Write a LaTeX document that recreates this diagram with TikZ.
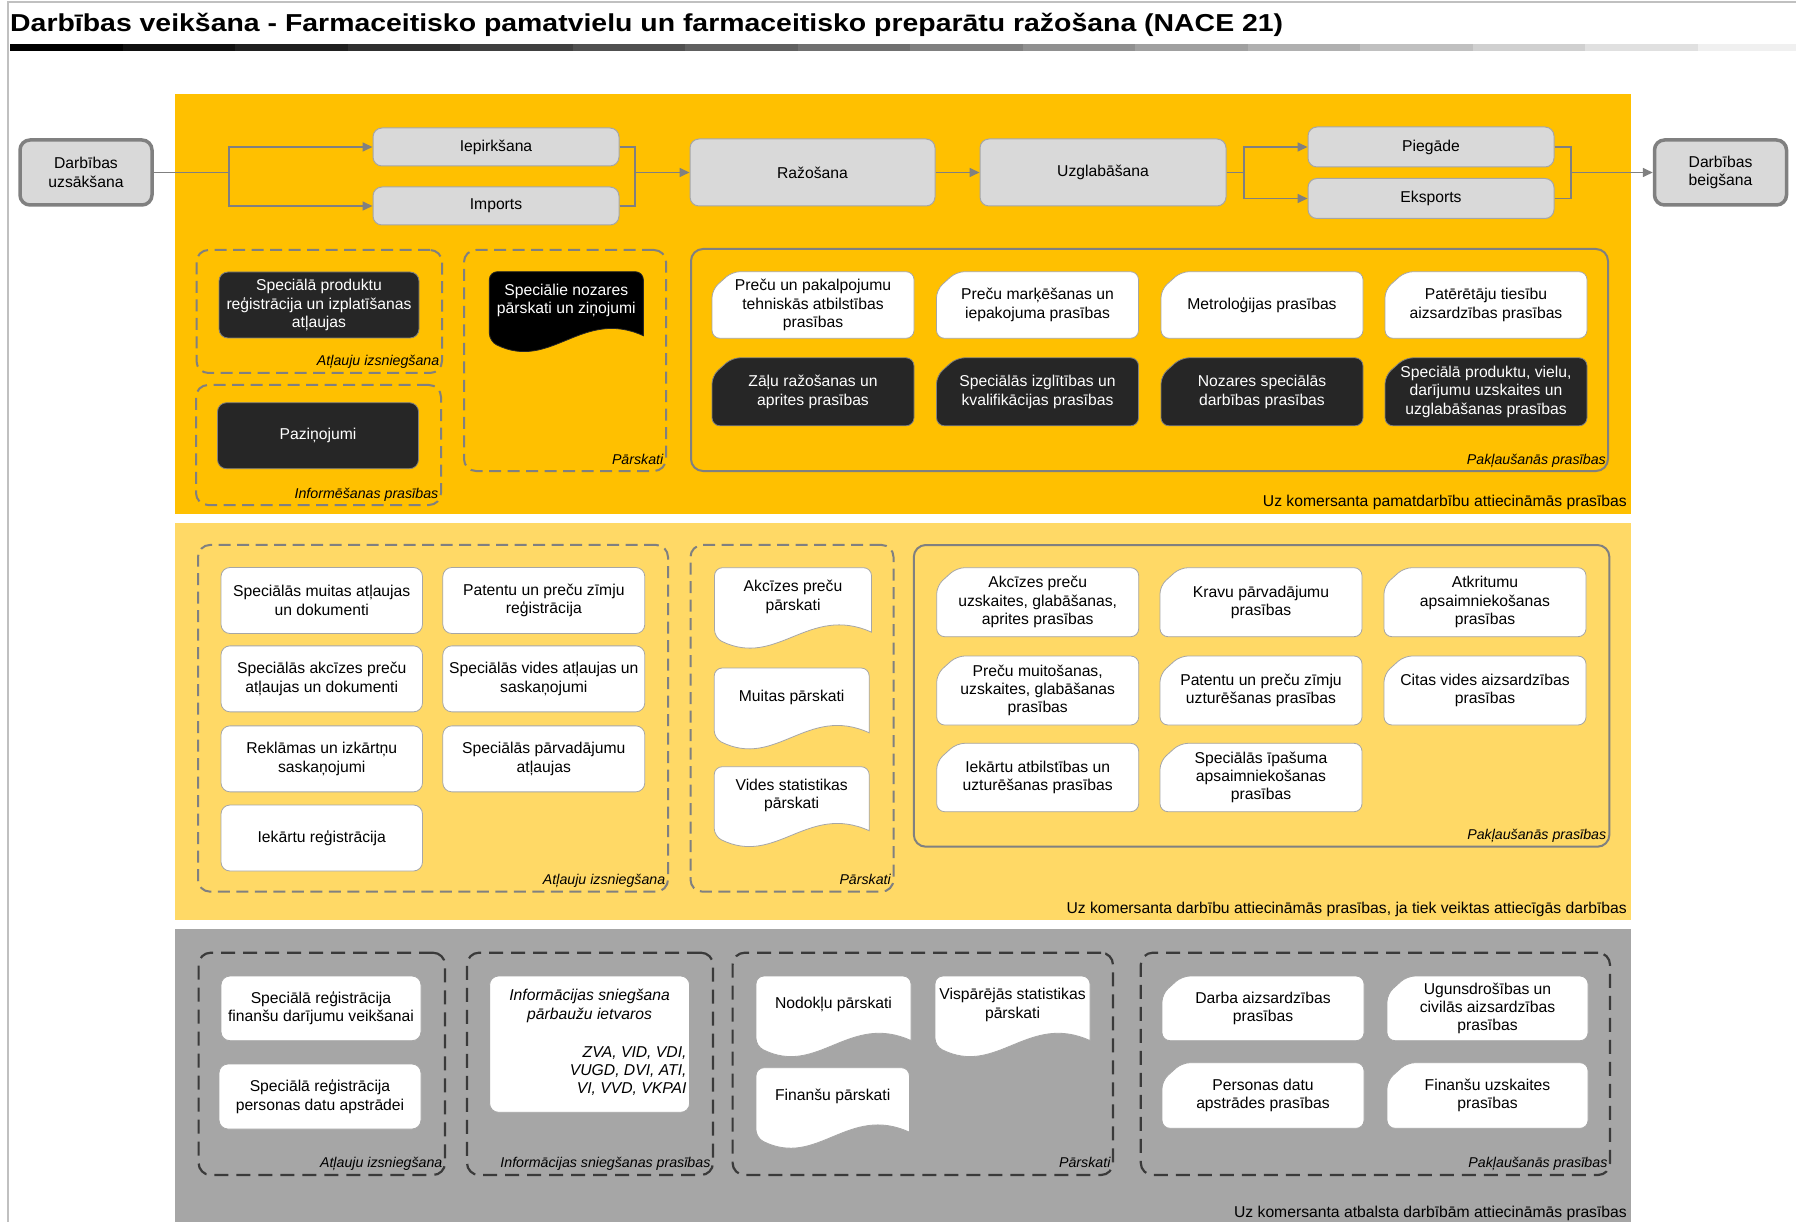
\documentclass[tikz,border=0pt]{standalone}
\usepackage{fontspec}
\usepackage{graphicx}
\setmainfont{Liberation Sans}
\usetikzlibrary{arrows.meta,calc}
\definecolor{bandA}{HTML}{FFC000}
\definecolor{bandB}{HTML}{FFD966}
\definecolor{bandC}{HTML}{A6A6A6}
\definecolor{boxgray}{HTML}{D9D9D9}
\definecolor{edgegray}{HTML}{808080}
\definecolor{lightedge}{HTML}{A6A6A6}
\definecolor{darkbox}{HTML}{262626}
\definecolor{darkdash}{HTML}{3A3A3A}
\definecolor{frameline}{HTML}{C0C0C0}
\newcommand\nf{\fontsize{15.7pt}{18.3pt}\selectfont}
\newcommand\lf{\fontsize{14.2pt}{17pt}\selectfont\itshape}
\pgfdeclarelayer{back}
\pgfdeclarelayer{mid}
\pgfsetlayers{back,mid,main}
\newcommand\snipshape[2]{\draw[#2] (#1.south) [rounded corners=8pt] -- (#1.south west) -- ([yshift=-18pt]#1.north west) -- ([xshift=20pt]#1.north west) -- (#1.north east) -- (#1.south east) -- cycle;}
\newcommand\docshape[2]{\draw[#2] let \p1=(#1.north west), \p2=(#1.south east), \n1={\x2-\x1}, \n2={\y1-\y2} in
  (\x2,{\y2+0.2*\n2}) [rounded corners=8pt] -- (\x2,\y1) -- (\x1,\y1) -- (\x1,{\y2+0.13*\n2}) [sharp corners]
  .. controls ({\x1+0.4*\n1},{\y2-0.25*\n2}) and ({\x1+0.6*\n1},{\y2+0.55*\n2}) .. (\x2,{\y2+0.2*\n2}) -- cycle;}
\begin{document}
\begin{tikzpicture}[x=1pt,y=-1pt,
  wh/.style 2 args={minimum width=#1pt, minimum height=#2pt},
  flowbox/.style={draw=lightedge, line width=1pt, fill=boxgray, rounded corners=9pt, font=\nf, align=center, inner sep=2pt},
  endbox/.style={draw=edgegray, line width=3.5pt, fill=boxgray, rounded corners=10pt, font=\nf, align=center, inner sep=2pt},
  flow/.style={draw=edgegray, line width=1.6pt},
  flowarrow/.style={flow, -{Triangle[length=10pt,width=9pt]}},
  dashA/.style={draw=edgegray, line width=2pt, dash pattern=on 12pt off 6.5pt, rounded corners=12pt},
  dashC/.style={draw=darkdash, line width=2.2pt, dash pattern=on 14pt off 8pt, rounded corners=12pt},
  solidgrp/.style={draw=edgegray, line width=2pt, rounded corners=12pt},
  wbox/.style={draw=lightedge, line width=0.8pt, fill=white, rounded corners=9pt, font=\nf, align=center, inner sep=2pt},
  dbox/.style={draw=edgegray, line width=0.8pt, fill=darkbox, text=white, rounded corners=9pt, font=\nf, align=center, inner sep=2pt},
  plain/.style={font=\nf, align=center, inner sep=0pt, outer sep=0pt},
  plainw/.style={plain, text=white},
  snipw/.style={draw=lightedge, line width=0.8pt, fill=white},
  snipd/.style={draw=edgegray, line width=0.8pt, fill=darkbox},
  docw/.style={draw=lightedge, line width=0.8pt, fill=white},
  docb/.style={draw=black!85, line width=0.8pt, fill=black},
  glabel/.style={font=\lf, inner sep=0pt, anchor=base east},
  blabel/.style={font=\nf, inner sep=0pt, anchor=base east}
]
\useasboundingbox (0,0) rectangle (1796,1222);
\begin{pgfonlayer}{back}
  \fill[white] (0,0) rectangle (1796,1222);
  \fill[bandA] (175,94) rectangle (1631,514);
  \fill[bandB] (175,523) rectangle (1631,920);
  \fill[bandC] (175,929) rectangle (1631,1222);
  \begin{scope}
    \clip (0,0) rectangle (1796,1222);
    \foreach \k in {0,...,15} {
      \pgfmathsetmacro\pc{100*(1-16*\k/255)}
      \fill[black!\pc] ({10+112.5*\k},44) rectangle ({10+112.5*(\k+1)},51);
    }
  \end{scope}
  \draw[frameline, line width=2pt] (7.5,1222) -- (7.5,2) -- (1796,2);
\end{pgfonlayer}

% title
\node[anchor=base west, inner sep=0pt, font=\fontsize{24.5pt}{28pt}\selectfont\bfseries] (title) at (10,32)
  {\resizebox{1273pt}{\height}{Darbības veikšana - Farmaceitisko pamatvielu un farmaceitisko preparātu ražošana (NACE 21)}};

% ---- top flow
\node[endbox, wh={132}{65}] (start) at (86,172.5) {Darbības\\uzsākšana};
\node[flowbox, wh={246}{38}] (iep) at (496,147) {Iepirkšana};
\node[flowbox, wh={246}{38}] (imp) at (496,206) {Imports};
\node[flowbox, wh={245}{67}] (raz) at (812.5,172.5) {Ražošana};
\node[flowbox, wh={246}{67}] (uzg) at (1103,172.5) {Uzglabāšana};
\node[flowbox, wh={246}{40}] (pie) at (1431,147) {Piegāde};
\node[flowbox, wh={246}{40}] (eks) at (1431,198.5) {Eksports};
\node[endbox, wh={132}{65}] (fin) at (1720.5,172.5) {Darbības\\beigšana};
\coordinate (jA) at (229,172.5);
\coordinate (jB) at (635,172.5);
\coordinate (jC) at (1244,172.5);
\coordinate (jD) at (1571,172.5);
\draw[flow] (start.east) -- (jA);
\draw[flowarrow] (jA) |- (iep.west);
\draw[flowarrow] (jA) |- (imp.west);
\draw[flow] (iep.east) -| (jB);
\draw[flow] (imp.east) -| (jB);
\draw[flowarrow] (jB) -- (raz.west);
\draw[flowarrow] (raz.east) -- (uzg.west);
\draw[flow] (uzg.east) -- (jC);
\draw[flowarrow] (jC) |- (pie.west);
\draw[flowarrow] (jC) |- (eks.west);
\draw[flow] (pie.east) -| (jD);
\draw[flow] (eks.east) -| (jD);
\draw[flowarrow] (jD) -- (fin.west);

% ---- band 1
\node[dashA, wh={245.5}{123}] (gA) at (319.25,311.5) {};
\node[dbox, wh={200}{66}] (a1) at (319,305) {Speciālā produktu\\reģistrācija un izplatīšanas\\atļaujas};
\node[glabel] (lA) at ([xshift=-3.5pt,yshift=8pt]gA.south east) {Atļauju izsniegšana};
\node[dashA, wh={245}{120}] (gB) at (318.5,445) {};
\node[dbox, wh={201}{66}] (b1) at (318,435.7) {Paziņojumi};
\node[glabel] (lB) at ([xshift=-3.5pt,yshift=8pt]gB.south east) {Informēšanas prasības};
\node[dashA, wh={202}{221}] (gC) at (565,360.5) {};
\node[plain, wh={154}{80}] (c1) at (566.35,311.7) {};
\node[plainw] (c1t) at ([yshift=11.5pt]c1.center) {Speciālie nozares\\pārskati un ziņojumi};
\node[glabel] (lC) at ([xshift=-3.5pt,yshift=8pt]gC.south east) {Pārskati};
\node[solidgrp, wh={917}{222}] (gD) at (1149.5,360) {};
\node[glabel] (lD) at ([xshift=-3pt,yshift=8pt]gD.south east) {Pakļaušanās prasības};
\node[plain, wh={202}{66.6}] (d11) at (813,305) {Preču un pakalpojumu\\tehniskās atbilstības\\prasības};
\node[plain, wh={202}{66.6}] (d12) at (1037.5,305) {Preču marķēšanas un\\iepakojuma prasības};
\node[plain, wh={202}{66.6}] (d13) at (1262,305) {Metroloģijas prasības};
\node[plain, wh={202}{66.6}] (d14) at (1486,305) {Patērētāju tiesību\\aizsardzības prasības};
\node[plainw, wh={202}{68}] (d21) at (813,391.8) {Zāļu ražošanas un\\aprites prasības};
\node[plainw, wh={202}{68}] (d22) at (1037.5,391.8) {Speciālās izglītības un\\kvalifikācijas prasības};
\node[plainw, wh={202}{68}] (d23) at (1262,391.8) {Nozares speciālās\\darbības prasības};
\node[plainw, wh={202}{68}] (d24) at (1486,391.8) {Speciālā produktu, vielu,\\darījumu uzskaites un\\uzglabāšanas prasības};
\node[blabel] (bl1) at (1627,506.5) {Uz komersanta pamatdarbību attiecināmās prasības};

% ---- band 2
\node[dashA, wh={470}{346.7}] (gE) at (433,718.3) {};
\node[wbox, wh={201.5}{66}] (e11) at (321.75,600.5) {Speciālās muitas atļaujas\\un dokumenti};
\node[wbox, wh={202}{66}] (e12) at (543.8,600.5) {Patentu un preču zīmju\\reģistrācija};
\node[wbox, wh={201.5}{66}] (e21) at (321.75,678.85) {Speciālās akcīzes preču\\atļaujas un dokumenti};
\node[wbox, wh={202}{66}] (e22) at (543.8,678.85) {Speciālās vides atļaujas un\\saskaņojumi};
\node[wbox, wh={201.5}{66}] (e31) at (321.75,758.85) {Reklāmas un izkārtņu\\saskaņojumi};
\node[wbox, wh={202}{66}] (e32) at (543.8,758.85) {Speciālās pārvadājumu\\atļaujas};
\node[wbox, wh={201.5}{66}] (e41) at (321.75,838) {Iekārtu reģistrācija};
\node[glabel] (lE) at ([xshift=-3.5pt,yshift=8.5pt]gE.south east) {Atļauju izsniegšana};
\node[dashA, wh={203}{346.7}] (gF) at (792,718.3) {};
\node[plain, wh={157}{80.6}] (f1) at (793,608) {};
\node[plain] (f1t) at ([yshift=11pt]f1.center) {Akcīzes preču\\pārskati};
\node[plain, wh={155}{81}] (f2) at (791.7,708.5) {};
\node[plain] (f2t) at ([yshift=11pt]f2.center) {Muitas pārskati};
\node[plain, wh={155}{80}] (f3) at (791.7,806.7) {};
\node[plain] (f3t) at ([yshift=11pt]f3.center) {Vides statistikas\\pārskati};
\node[glabel] (lF) at ([xshift=-3.5pt,yshift=8.5pt]gF.south east) {Pārskati};
\node[solidgrp, wh={695.6}{301.7}] (gG) at (1261.6,695.85) {};
\node[plain, wh={202}{69}] (g11) at (1037.7,602.2) {Akcīzes preču\\uzskaites, glabāšanas,\\aprites prasības};
\node[plain, wh={202}{69}] (g12) at (1261,602.2) {Kravu pārvadājumu\\prasības};
\node[plain, wh={202}{69}] (g13) at (1485,602.2) {Atkritumu\\apsaimniekošanas\\prasības};
\node[plain, wh={202}{69}] (g21) at (1037.7,690.5) {Preču muitošanas,\\uzskaites, glabāšanas\\prasības};
\node[plain, wh={202}{69}] (g22) at (1261,690.5) {Patentu un preču zīmju\\uzturēšanas prasības};
\node[plain, wh={202}{69}] (g23) at (1485,690.5) {Citas vides aizsardzības\\prasības};
\node[plain, wh={202}{68.4}] (g31) at (1037.7,777.5) {Iekārtu atbilstības un\\uzturēšanas prasības};
\node[plain, wh={202}{68.4}] (g32) at (1261,777.5) {Speciālās īpašuma\\apsaimniekošanas\\prasības};
\node[glabel] (lG) at ([xshift=-4pt,yshift=8.5pt]gG.south east) {Pakļaušanās prasības};
\node[blabel] (bl2) at (1627,913) {Uz komersanta darbību attiecināmās prasības, ja tiek veiktas attiecīgās darbības};

% ---- band 3
\node[dashC, wh={246.4}{222.3}] (gH) at (321.8,1063.85) {};
\node[wbox, wh={200}{64.7}] (h1) at (321,1008.35) {Speciālā reģistrācija\\finanšu darījumu veikšanai};
\node[wbox, wh={202}{65}] (h2) at (320,1096.5) {Speciālā reģistrācija\\personas datu apstrādei};
\node[glabel] (lH) at ([xshift=-3.5pt,yshift=9pt]gH.south east) {Atļauju izsniegšana};
\node[dashC, wh={246}{222.3}] (gI) at (590,1063.85) {};
\node[wbox, wh={200}{136.3}] (i1) at (589.6,1044.15) {};
\node[plain, font=\nf\itshape] (i1a) at (589.6,1006) {Informācijas sniegšana\\pārbaužu ietvaros};
\node[plain, font=\nf\itshape, align=right, anchor=east] (i1b) at (686.5,1071) {ZVA, VID, VDI,\\VUGD, DVI, ATI,\\VI, VVD, VKPAI};
\node[glabel] (lI) at ([xshift=-3.5pt,yshift=9pt]gI.south east) {Informācijas sniegšanas prasības};
\node[dashC, wh={380.4}{222.3}] (gJ) at (922.8,1063.85) {};
\node[plain, wh={155}{80.7}] (j1) at (833.5,1016.35) {};
\node[plain] (j1t) at ([yshift=11.5pt]j1.center) {Nodokļu pārskati};
\node[plain, wh={155}{80.7}] (j2) at (1012.5,1016.35) {};
\node[plain] (j2t) at ([yshift=11.5pt]j2.center) {Vispārējās statistikas\\pārskati};
\node[plain, wh={153.4}{80.6}] (j3) at (832.7,1108) {};
\node[plain] (j3t) at ([yshift=11.5pt]j3.center) {Finanšu pārskati};
\node[glabel] (lJ) at ([xshift=-3.5pt,yshift=9pt]gJ.south east) {Pārskati};
\node[dashC, wh={469.2}{222.3}] (gK) at (1375.4,1063.85) {};
\node[plain, wh={202}{64.7}] (k11) at (1263,1008.35) {Darba aizsardzības\\prasības};
\node[plain, wh={201}{64.7}] (k12) at (1487.5,1008.35) {Ugunsdrošības un\\civilās aizsardzības\\prasības};
\node[plain, wh={202}{65.6}] (k21) at (1263,1095.5) {Personas datu\\apstrādes prasības};
\node[plain, wh={201}{65.6}] (k22) at (1487.5,1095.5) {Finanšu uzskaites\\prasības};
\node[glabel] (lK) at ([xshift=-3.5pt,yshift=9pt]gK.south east) {Pakļaušanās prasības};
\node[blabel] (bl3) at (1627,1217.5) {Uz komersanta atbalsta darbībām attiecināmās prasības};

% ---- shapes behind texts
\begin{pgfonlayer}{mid}
  \foreach \nm in {d11,d12,d13,d14,g11,g12,g13,g21,g22,g23,g31,g32,k11,k12,k21,k22} {\snipshape{\nm}{snipw}}
  \foreach \nm in {d21,d22,d23,d24} {\snipshape{\nm}{snipd}}
  \docshape{f1}{docw}
  \docshape{f2}{docw}
  \docshape{f3}{docw}
  \docshape{j1}{docw}
  \docshape{j2}{docw}
  \docshape{j3}{docw}
  \docshape{c1}{docb}
\end{pgfonlayer}
\end{tikzpicture}
\end{document}
